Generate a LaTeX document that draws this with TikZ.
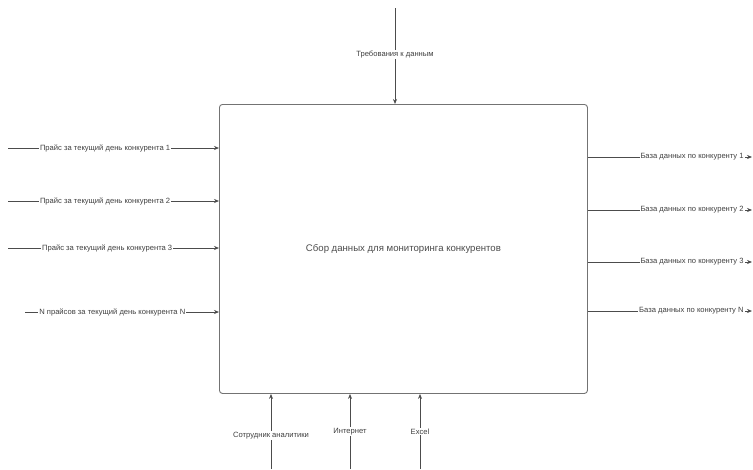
\documentclass[tikz,border=0pt]{standalone}
\usepackage{fontspec}
\setmainfont{Liberation Sans}
\usetikzlibrary{arrows.meta}
\begin{document}
\begin{tikzpicture}[x=1pt,y=-1pt,
  flow/.style={draw=black!70,line width=0.7pt,-{Stealth[length=5pt,width=4pt]}},
  lbl/.style={fill=white,inner sep=1pt,text=black!75,font=\fontsize{7.6}{8}\selectfont},
  funcbox/.style={draw=black!55,line width=0.9pt,rounded corners=3pt,minimum width=368pt,minimum height=289pt,anchor=north west,text=black!70,font=\fontsize{9.6}{11}\selectfont}]
\useasboundingbox[fill=white] (0,0) rectangle (753,469);
\node[funcbox] (F) at (219,104) {Сбор данных для мониторинга конкурентов};
% control
\coordinate (c0) at (395,8);
\draw[flow] (c0) -- (c0 |- F.north) node[lbl,pos=0.48] {Требования к данным};
% inputs
\coordinate (i1) at (8,148);
\coordinate (i2) at (8,201);
\coordinate (i3) at (8,248);
\coordinate (i4) at (25,312);
\draw[flow] (i1) -- (i1 -| F.west) node[lbl,pos=0.46] {Прайс за текущий день конкурента 1};
\draw[flow] (i2) -- (i2 -| F.west) node[lbl,pos=0.46] {Прайс за текущий день конкурента 2};
\draw[flow] (i3) -- (i3 -| F.west) node[lbl,pos=0.47] {Прайс за текущий день конкурента 3};
\draw[flow] (i4) -- (i4 -| F.west) node[lbl,pos=0.45] {N прайсов за текущий день конкурента N};
% outputs
\coordinate (o1) at (752,157);
\coordinate (o2) at (752,210);
\coordinate (o3) at (752,262);
\coordinate (o4) at (752,311);
\draw[flow] (o1 -| F.east) -- (o1) node[lbl,pos=1,anchor=east,xshift=-7pt] {База данных по конкуренту 1};
\draw[flow] (o2 -| F.east) -- (o2) node[lbl,pos=1,anchor=east,xshift=-7pt] {База данных по конкуренту 2};
\draw[flow] (o3 -| F.east) -- (o3) node[lbl,pos=1,anchor=east,xshift=-7pt] {База данных по конкуренту 3};
\draw[flow] (o4 -| F.east) -- (o4) node[lbl,pos=1,anchor=east,xshift=-7pt] {База данных по конкуренту N};
% mechanisms
\coordinate (m1) at (271,469);
\coordinate (m2) at (350,469);
\coordinate (m3) at (420,469);
\draw[flow] (m1) -- (m1 |- F.south) node[lbl,pos=0.45] {Сотрудник аналитики};
\draw[flow] (m2) -- (m2 |- F.south) node[lbl,pos=0.5] {Интернет};
\draw[flow] (m3) -- (m3 |- F.south) node[lbl,pos=0.5] {Excel};
\end{tikzpicture}
\end{document}
